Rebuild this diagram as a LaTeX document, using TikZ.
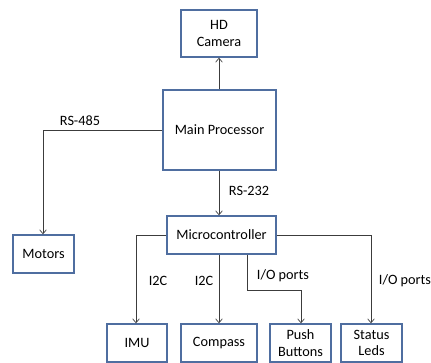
\documentclass[tikz,border=0pt]{standalone}
\usepackage{fontspec}
\setmainfont{Carlito}
\usetikzlibrary{arrows.meta}
\definecolor{boxblue}{RGB}{79,110,160}
\definecolor{linegray}{RGB}{60,60,60}
\tikzset{
  blk/.style={draw=boxblue, line width=1pt, fill=white, inner sep=0pt, align=center, font=\fontsize{10.7}{12.5}\selectfont},
  conn/.style={draw=linegray, line width=0.5pt, -{Straight Barb[length=3pt,width=5pt]}},
  lbl/.style={font=\fontsize{10.7}{12.5}\selectfont, inner sep=0pt}
}
\begin{document}
\begin{tikzpicture}[x=0.75pt,y=-0.75pt]
\useasboundingbox (0,0) rectangle (431,363);
\node[blk, minimum width=76*0.75pt, minimum height=47*0.75pt] (cam) at (219,33.5) {HD\\Camera};
\node[blk, minimum width=113*0.75pt, minimum height=80*0.75pt] (main) at (219.5,130) {Main Processor};
\node[blk, minimum width=61*0.75pt, minimum height=38*0.75pt] (mot) at (43.5,254) {Motors};
\node[blk, minimum width=109*0.75pt, minimum height=38*0.75pt] (mcu) at (221.5,235) {Microcontroller};
\node[blk, minimum width=60*0.75pt, minimum height=38*0.75pt] (imu) at (137,343) {IMU};
\node[blk, minimum width=76*0.75pt, minimum height=38*0.75pt] (comp) at (219,343) {Compass};
\node[blk, minimum width=61*0.75pt, minimum height=38*0.75pt] (push) at (300.5,343) {Push\\Buttons};
\node[blk, minimum width=61*0.75pt, minimum height=38*0.75pt] (leds) at (371.5,343) {Status\\Leds};

\draw[conn] (main.north -| 219,0) -- (cam.south -| 219,0);
\draw[conn] (main.west) -- (43,130) -- (mot.north -| 43,0);
\draw[conn] (main.south -| 219,0) -- (mcu.north -| 219,0);
\draw[conn] (mcu.west) -- (136,235) -- (imu.north -| 136,0);
\draw[conn] (mcu.south -| 219,0) -- (comp.north -| 219,0);
\draw[conn] (mcu.south -| 247,0) -- (247,290) -- (301,290) -- (push.north -| 301,0);
\draw[conn] (mcu.east) -- (371,235) -- (leds.north -| 371,0);

\node[lbl] (l485) at (80,121) {RS-485};
\node[lbl] (l232) at (249,191) {RS-232};
\node[lbl] (li1) at (158,281) {I2C};
\node[lbl] (li2) at (204,281) {I2C};
\node[lbl] (lio1) at (283,276) {I/O ports};
\node[lbl] (lio2) at (405,281) {I/O ports};
\end{tikzpicture}
\end{document}
